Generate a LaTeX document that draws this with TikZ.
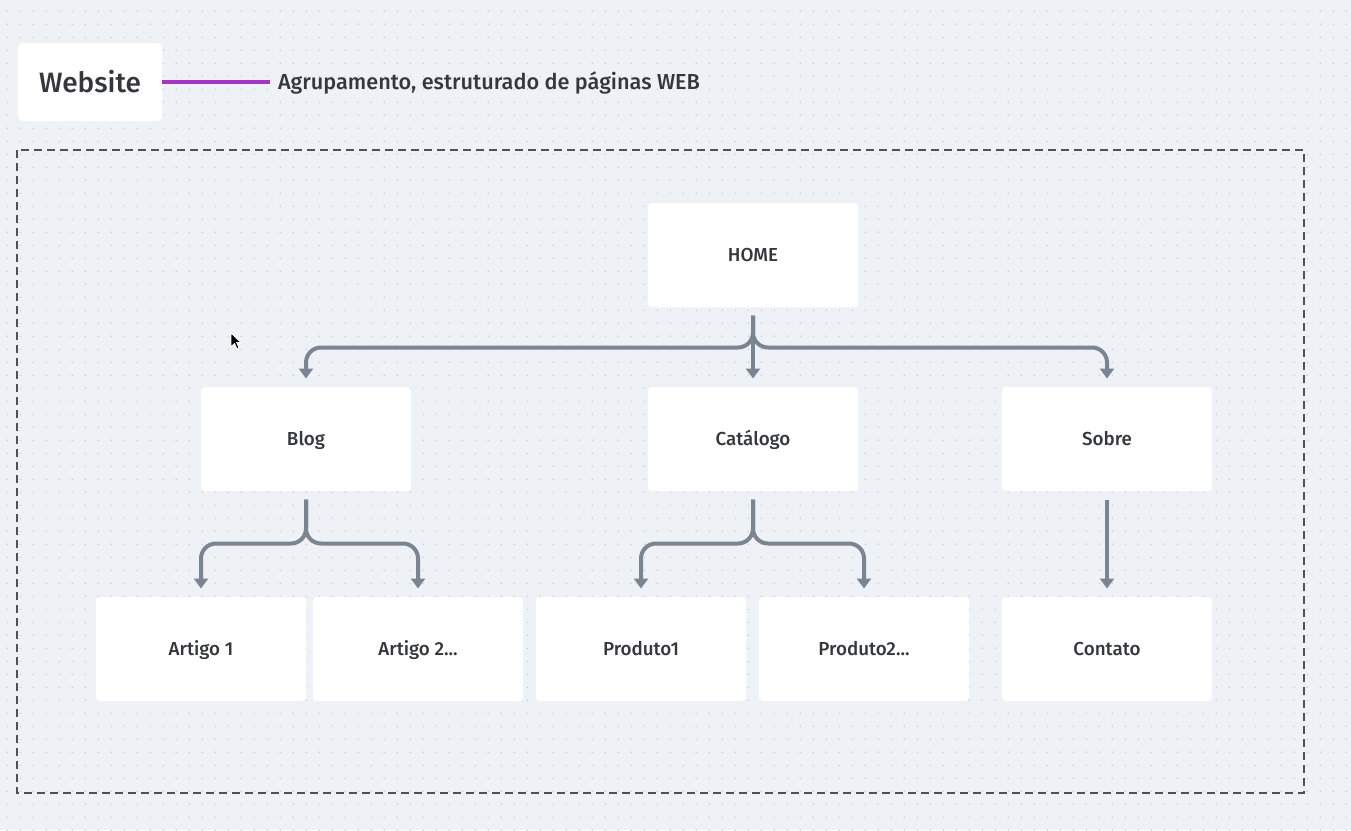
\documentclass[tikz,border=0pt]{standalone}
\usepackage{fontspec}
\setmainfont{Fira Sans}[UprightFont={* Medium}]
\usetikzlibrary{arrows.meta}

\definecolor{bgc}{HTML}{EEF1F6}
\definecolor{dotc}{HTML}{C3C8D0}
\definecolor{linkc}{HTML}{7B8591}
\definecolor{framec}{HTML}{4D525A}
\definecolor{textc}{HTML}{34373C}
\definecolor{purplec}{HTML}{A435C6}

\begin{document}
\begin{tikzpicture}[x=1pt,y=-1pt,
	page/.style={draw=white!90!bgc, fill=white, rounded corners=4pt,
		minimum width=210pt, minimum height=104pt, inner sep=0pt,
		outer xsep=0pt, outer ysep=8.5pt, text=textc,
		font=\fontsize{18.8}{20}\selectfont, text height=13pt, text depth=0pt},
	link/.style={draw=linkc, line width=4pt, rounded corners=15pt,
		-{Triangle[width=14pt,length=10pt]}},
	]
			%%%	Fundo
			\fill[bgc] (0,0) rectangle (1351,830);
			\useasboundingbox (0,0) rectangle (1351,830);
			\foreach \i in {0,...,103}
			\foreach \j in {0,...,63}
			\fill[dotc] (7.3+13*\i,11.3+13*\j) circle (0.75pt);
			%%%	Legenda
			\node[fill=white, draw=white!90!bgc, rounded corners=6pt,
				minimum width=144pt, minimum height=78pt, inner sep=0pt,
				text=textc, font=\fontsize{28}{32}\selectfont,
				text height=21.5pt, text depth=0pt] (web) at (90,82) {Website};
			\node[anchor=west, inner xsep=0pt, outer xsep=8pt, text=textc,
				font=\fontsize{21.7}{24}\selectfont, text height=15pt,
				text depth=0pt] (note) at (270,82) {Agrupamento, estruturado de páginas WEB};
			\draw[purplec, line width=4pt] (web.east) -- (note.west);
			%%%	Moldura
			\draw[framec, line width=1.8pt, dash pattern=on 8pt off 5pt]
			(17,150) rectangle (1304,793);
			%%%	Paginas
			\node[page] (home) at (753,255) {HOME};
			\node[page] (blog) at (306,439) {Blog};
			\node[page] (catalogo) at (753,439) {Catálogo};
			\node[page] (sobre) at (1107,439) {Sobre};
			\node[page] (artigoA) at (201,649) {Artigo 1};
			\node[page] (artigoB) at (418,649) {Artigo 2...};
			\node[page] (produtoA) at (641,649) {Produto1};
			\node[page] (produtoB) at (864,649) {Produto2...};
			\node[page] (contato) at (1107,649) {Contato};
			%%%	Ligacoes
			\draw[link] (home.south) -- ++(0,32) -| (blog.north);
			\draw[link] (home.south) -- ++(0,32) -| (sobre.north);
			\draw[link] (home.south) -- (catalogo.north);
			\draw[link] (blog.south) -- ++(0,44) -| (artigoA.north);
			\draw[link] (blog.south) -- ++(0,44) -| (artigoB.north);
			\draw[link] (catalogo.south) -- ++(0,44) -| (produtoA.north);
			\draw[link] (catalogo.south) -- ++(0,44) -| (produtoB.north);
			\draw[link] (sobre.south) -- (contato.north);
			%%%	Cursor
			\filldraw[fill=black, draw=white, line width=0.8pt]
			(231,333) -- (231,347) -- (234.5,343.5) -- (237,349) -- (239,348)
			-- (236.7,342.6) -- (241,342.6) -- cycle;
\end{tikzpicture}
\end{document}
